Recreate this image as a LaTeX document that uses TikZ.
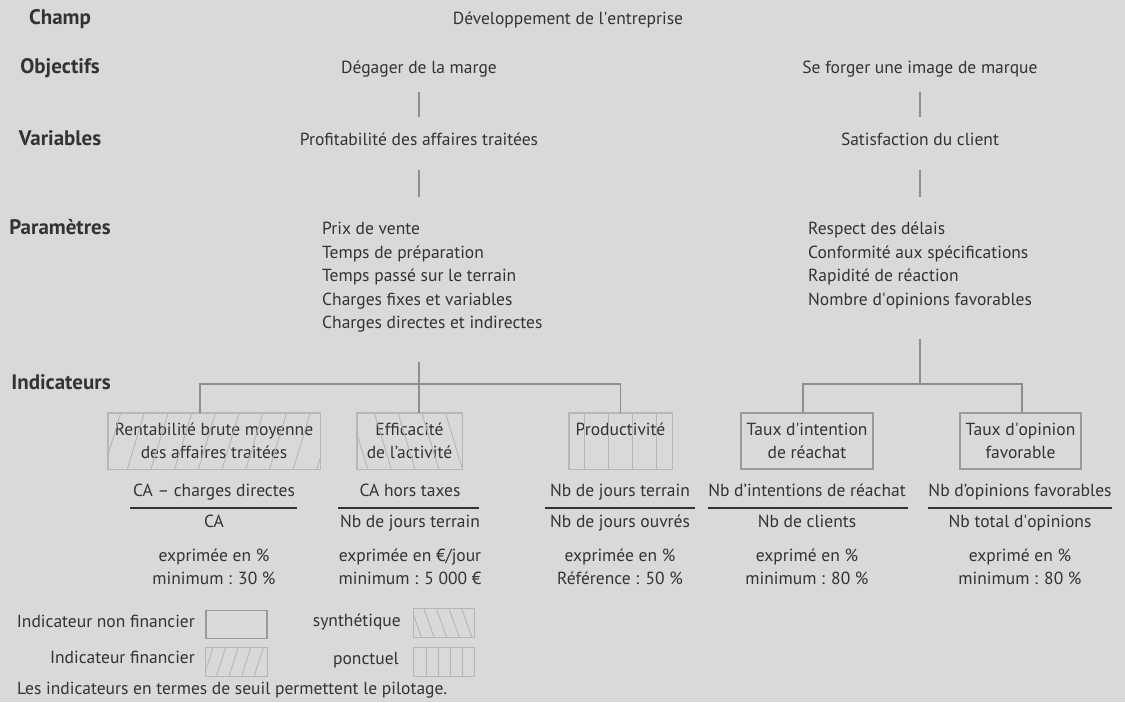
\documentclass[tikz,border=0pt]{standalone}
\usepackage{fontspec}
\newfontfamily\dfont{PT Sans}
\newcommand\sq{\ifnum\XeTeXglyphindex "quotesingle" >0 \XeTeXglyph\XeTeXglyphindex "quotesingle" \relax\else '\fi}
\usetikzlibrary{calc}
\definecolor{bg}{HTML}{D9D9D9}
\definecolor{txt}{HTML}{333333}
\definecolor{connc}{HTML}{8E8E8E}
\definecolor{hatchc}{HTML}{B6B6B6}
\definecolor{nfc}{HTML}{999999}
\tikzset{
  every node/.style={font=\dfont\fontsize{17.5}{23}\selectfont, text=txt, inner sep=0pt, text height=12.5pt, text depth=3.5pt},
  lbl/.style={font=\dfont\bfseries\fontsize{21}{24}\selectfont},
  connector/.style={draw=connc, line width=1.2pt},
  hbox/.style={draw=hatchc, line width=1pt, align=center, minimum height=56pt, text height=, text depth=},
  nfbox/.style={draw=nfc, line width=1.2pt, align=center, minimum height=56pt, text height=, text depth=},
  hline/.style={draw=hatchc, line width=0.9pt},
  fracline/.style={draw=txt, line width=1.3pt},
  legbox/.style={minimum width=61pt, minimum height=28pt},
}
\begin{document}
\begin{tikzpicture}[x=1pt,y=-1pt]
\fill[bg] (0,0) rectangle (1125,702);
\useasboundingbox (0,0) rectangle (1125,702);

% row labels
\node[lbl] (lchamp) at (60,20) {Champ};
\node[lbl] (lobj) at (60,69) {Objectifs};
\node[lbl] (lvar) at (60,141) {Variables};
\node[lbl] (lpar) at (60,230) {Paramètres};
\node[lbl] (lind) at (61,385) {Indicateurs};

% main texts
\node (champ) at (568,20) {Développement de l\sq entreprise};
\node (obj1) at (419,69) {Dégager de la marge};
\node (obj2) at (920,69) {Se forger une image de marque};
\node (var1) at (419,141) {Profitabilité des affaires traitées};
\node (var2) at (920,141) {Satisfaction du client};

\draw[connector, shorten <=23pt, shorten >=24pt] (obj1.center) -- (var1.center);
\draw[connector, shorten <=23pt, shorten >=24pt] (obj2.center) -- (var2.center);

% parameters
\node[anchor=west] (p1) at (322,230) {Prix de vente};
\node[anchor=west] (p2) at (322,253.5) {Temps de préparation};
\node[anchor=west] (p3) at (322,277) {Temps passé sur le terrain};
\node[anchor=west] (p4) at (322,300.5) {Charges fixes et variables};
\node[anchor=west] (p5) at (322,324) {Charges directes et indirectes};

\node[anchor=west] (q1) at (808,230) {Respect des délais};
\node[anchor=west] (q2) at (808,253.5) {Conformité aux spécifications};
\node[anchor=west] (q3) at (808,277) {Rapidité de réaction};
\node[anchor=west] (q4) at (808,300.5) {Nombre d\sq opinions favorables};

\draw[connector, shorten <=29pt, shorten >=33pt] (var1.center) -- (var1.center |- p1.center);
\draw[connector, shorten <=29pt, shorten >=33pt] (var2.center) -- (var2.center |- q1.center);

% indicator boxes
\node[hbox, minimum width=212pt] (b1) at (214,441) {Rentabilité brute moyenne\\des affaires traitées};
\node[hbox, minimum width=105pt] (b2) at (409.5,441) {Efficacité\\de l’activité};
\node[hbox, minimum width=103pt] (b3) at (620.5,441) {Productivité\\\phantom{x}};
\node[nfbox, minimum width=132pt] (b4) at (807,441) {Taux d\sq intention\\de réachat};
\node[nfbox, minimum width=121pt] (b5) at (1020.5,441) {Taux d\sq opinion\\favorable};

% hatching in boxes
\begin{scope}
\clip (b1.south west) rectangle (b1.north east);
\foreach \i in {-1,...,10} \draw[hline] ($(b1.south west)+(\i*23.7-4,0)$) -- ++(17,-56);
\end{scope}
\begin{scope}
\clip (b2.south west) rectangle (b2.north east);
\foreach \i in {-1,...,5} \draw[hline] ($(b2.north west)+(\i*23.7-6,0)$) -- ++(17,56);
\end{scope}
\foreach \xx in {16,40,64,88} \draw[hline] ($(b3.north west)+(\xx,0)$) -- ($(b3.south west)+(\xx,0)$);
\draw[draw=hatchc, line width=1pt] (b1.south west) rectangle (b1.north east);
\draw[draw=hatchc, line width=1pt] (b2.south west) rectangle (b2.north east);
\draw[draw=hatchc, line width=1pt] (b3.south west) rectangle (b3.north east);

% tree connectors
\coordinate (tl) at (419,384);
\coordinate (tr) at (920,384);
\draw[connector] (p5.south -| tl) ++(0,30) -- (tl) -- (b2.north -| tl);
\draw[connector] ([xshift=-14pt]b1.north) |- (tl) -| (b3.north);
\draw[connector] (q4.south -| tr) ++(0,30) -- (tr);
\draw[connector] ([xshift=-4pt]b4.north) |- (tr) -| ([xshift=1.5pt]b5.north);

% fractions
\node (n1) at (214,492) {CA – charges directes};
\node (n2) at (410,492) {CA hors taxes};
\node (n3) at (620,492) {Nb de jours terrain};
\node (n4) at (807,492) {Nb d’intentions de réachat};
\node (n5) at (1020,492) {Nb d’opinions favorables};

\node (d1) at (214,523) {CA};
\node (d2) at (410,523) {Nb de jours terrain};
\node (d3) at (620,523) {Nb de jours ouvrés};
\node (d4) at (807,523) {Nb de clients};
\node (d5) at (1020,523) {Nb total d\sq opinions};

\draw[fracline] (130,508) -- (297,508);
\draw[fracline] (338,508) -- (479,508);
\draw[fracline] (545,508) -- (695,508);
\draw[fracline] (708,508) -- (908,508);
\draw[fracline] (928,508) -- (1112,508);

\node (e1) at (214,557) {exprimée en \%};
\node (m1) at (214,580) {minimum : 30 \%};
\node (e2) at (410,557) {exprimée en €/jour};
\node (m2) at (410,580) {minimum : 5 000 €};
\node (e3) at (620,557) {exprimée en \%};
\node (m3) at (620,580) {Référence : 50 \%};
\node (e4) at (807,557) {exprimé en \%};
\node (m4) at (807,580) {minimum : 80 \%};
\node (e5) at (1020,557) {exprimé en \%};
\node (m5) at (1020,580) {minimum : 80 \%};

% legend
\node[anchor=east] (lg1) at (195,623) {Indicateur non financier};
\node[anchor=east] (lg2) at (195,659) {Indicateur financier};
\node[anchor=east] (lg3) at (401,622) {synthétique};
\node[anchor=east] (lg4) at (399,660) {ponctuel};
\node[legbox, draw=nfc, line width=1.2pt] (k1) at (236.5,624.5) {};
\node[legbox] (k2) at (236.5,662) {};
\node[legbox] (k3) at (444,623) {};
\node[legbox] (k4) at (444,662) {};
\begin{scope}
\clip (k2.south west) rectangle (k2.north east);
\foreach \i in {0,...,5} \draw[hline] ($(k2.south west)+(\i*12.6-2,0)$) -- ++(9,-28);
\end{scope}
\begin{scope}
\clip (k3.south west) rectangle (k3.north east);
\foreach \i in {0,...,5} \draw[hline] ($(k3.north west)+(\i*12.6-2,0)$) -- ++(10,28);
\end{scope}
\foreach \xx in {13,25,37,49} \draw[hline] ($(k4.north west)+(\xx,0)$) -- ($(k4.south west)+(\xx,0)$);
\draw[draw=hatchc, line width=1pt] (k2.south west) rectangle (k2.north east);
\draw[draw=hatchc, line width=1pt] (k3.south west) rectangle (k3.north east);
\draw[draw=hatchc, line width=1pt] (k4.south west) rectangle (k4.north east);

\node[anchor=west] (foot) at (17,690) {Les indicateurs en termes de seuil permettent le pilotage.};
\end{tikzpicture}
\end{document}
